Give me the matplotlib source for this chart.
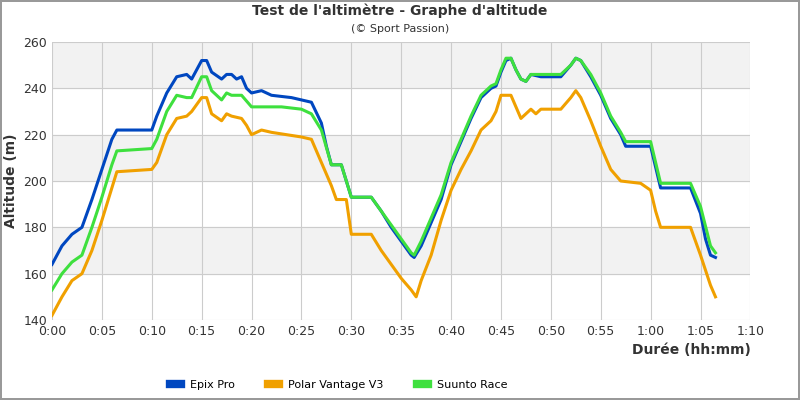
import matplotlib
matplotlib.use('Agg')
from matplotlib import pyplot as plt
import numpy as np

t_epix = [0, 1, 2, 3, 4, 5, 6, 6.5, 10, 10.5, 11.5, 12.5, 13.5, 14, 15, 15.5, 16, 17, 17.5, 18, 18.5, 19, 19.5, 20, 21, 22, 24, 25, 26, 27, 27.5, 28, 29, 29.5, 30, 32, 33, 34, 35, 36, 36.3, 37, 38, 39, 40, 41, 42, 43, 44, 44.5, 45, 45.5, 46, 46.5, 47, 47.5, 48, 49, 51, 52, 52.5, 53, 54, 55, 56, 57, 57.5, 60, 61, 64, 65, 65.5, 66, 66.5]
epix = [164, 172, 177, 180, 192, 205, 218, 222, 222, 228, 238, 245, 246, 244, 252, 252, 247, 244, 246, 246, 244, 245, 240, 238, 239, 237, 236, 235, 234, 225, 215, 207, 207, 200, 193, 193, 187, 180, 174, 168, 167, 172, 182, 192, 207, 217, 227, 236, 240, 241, 247, 252, 253, 248, 244, 243, 246, 245, 245, 250, 253, 252, 245, 237, 227, 220, 215, 215, 197, 197, 186, 175, 168, 167]

t_suunto = [0, 1, 2, 3, 4, 5, 6, 6.5, 10, 10.5, 11.5, 12.5, 13.5, 14, 15, 15.5, 16, 17, 17.5, 18, 19, 20, 21, 23, 25, 26, 27, 28, 29, 30, 32, 33, 34, 35, 36, 36.3, 37, 38, 39, 40, 41, 42, 43, 44, 44.5, 45, 45.5, 46, 46.5, 47, 47.5, 48, 49, 51, 52, 52.5, 53, 54, 55, 56, 57, 57.5, 60, 61, 64, 65, 66, 66.5]
suunto = [153, 160, 165, 168, 180, 193, 207, 213, 214, 218, 230, 237, 236, 236, 245, 245, 239, 235, 238, 237, 237, 232, 232, 232, 231, 229, 222, 207, 207, 193, 193, 187, 181, 175, 169, 168, 174, 184, 194, 208, 218, 228, 237, 241, 242, 248, 253, 253, 248, 244, 243, 246, 246, 246, 250, 253, 252, 246, 238, 228, 221, 217, 217, 199, 199, 189, 172, 169]

t_polar = [0, 1, 2, 3, 4, 5, 6, 6.5, 10, 10.5, 11.5, 12.5, 13.5, 14, 15, 15.5, 16, 17, 17.5, 18, 19, 19.5, 20, 21, 22, 25, 26, 27, 28, 28.5, 29.5, 30, 32, 33, 34, 35, 36, 36.5, 37, 38, 39, 40, 41, 42, 43, 44, 44.5, 45, 46, 46.5, 47, 48, 48.5, 49, 51, 52, 52.5, 53, 54, 55, 56, 57, 59, 60, 60.5, 61, 64, 65, 66, 66.5]
polar = [142, 150, 157, 160, 170, 183, 197, 204, 205, 208, 220, 227, 228, 230, 236, 236, 229, 226, 229, 228, 227, 224, 220, 222, 221, 219, 218, 208, 198, 192, 192, 177, 177, 170, 164, 158, 153, 150, 157, 168, 183, 196, 205, 213, 222, 226, 230, 237, 237, 232, 227, 231, 229, 231, 231, 236, 239, 236, 226, 215, 205, 200, 199, 196, 187, 180, 180, 168, 155, 150]

xticks = list(range(0, 71, 5))
xlabels = ['0:00', '0:05', '0:10', '0:15', '0:20', '0:25', '0:30', '0:35', '0:40', '0:45', '0:50', '0:55', '1:00', '1:05', '1:10']

fig = plt.figure(figsize=(8, 4), dpi=100)
fig.patch.set_edgecolor('#999999')
fig.patch.set_linewidth(1.5)
ax = fig.add_axes([0.065, 0.2, 0.873, 0.695])
for lo in (160, 200, 240):
    ax.axhspan(lo, lo + 20, color='#f2f2f2', zorder=0)

ax.plot(t_polar, polar, color='#f0a000', lw=2.2, label='Polar Vantage V3')
ax.plot(t_epix, epix, color='#0047c0', lw=2.2, label='Epix Pro')
ax.plot(t_suunto, suunto, color='#3ee03e', lw=2.2, label='Suunto Race')

ax.set_xlim(0, 70)
ax.set_ylim(140, 260)
ax.set_xticks(xticks)
ax.set_xticklabels(xlabels)
ax.set_yticks(range(140, 261, 20))
ax.grid(True, color='#cccccc', lw=0.8)
ax.set_axisbelow(True)
for s in ax.spines.values():
    s.set_visible(False)
ax.tick_params(length=0, labelsize=9, colors='#333333')
ax.set_ylabel('Altitude (m)', fontsize=10, fontweight='bold', color='#333333')
ax.set_xlabel('Durée (hh:mm)', fontsize=10, fontweight='bold', color='#333333', loc='right')

fig.text(0.5, 0.963, "Test de l'altimètre - Graphe d'altitude", ha='center', fontsize=10, fontweight='bold', color='#333333')
fig.text(0.5, 0.92, '(© Sport Passion)', ha='center', fontsize=8, color='#333333')

h, l = ax.get_legend_handles_labels()
order = [1, 0, 2]
leg = fig.legend([h[i] for i in order], [l[i] for i in order], loc='lower left', bbox_to_anchor=(0.2, 0.0),
                 ncol=3, frameon=False, fontsize=8, handlelength=1, columnspacing=3)
for lh in leg.get_lines():
    lh.set_linewidth(6)

fig.savefig('out.png', edgecolor=fig.get_edgecolor())
